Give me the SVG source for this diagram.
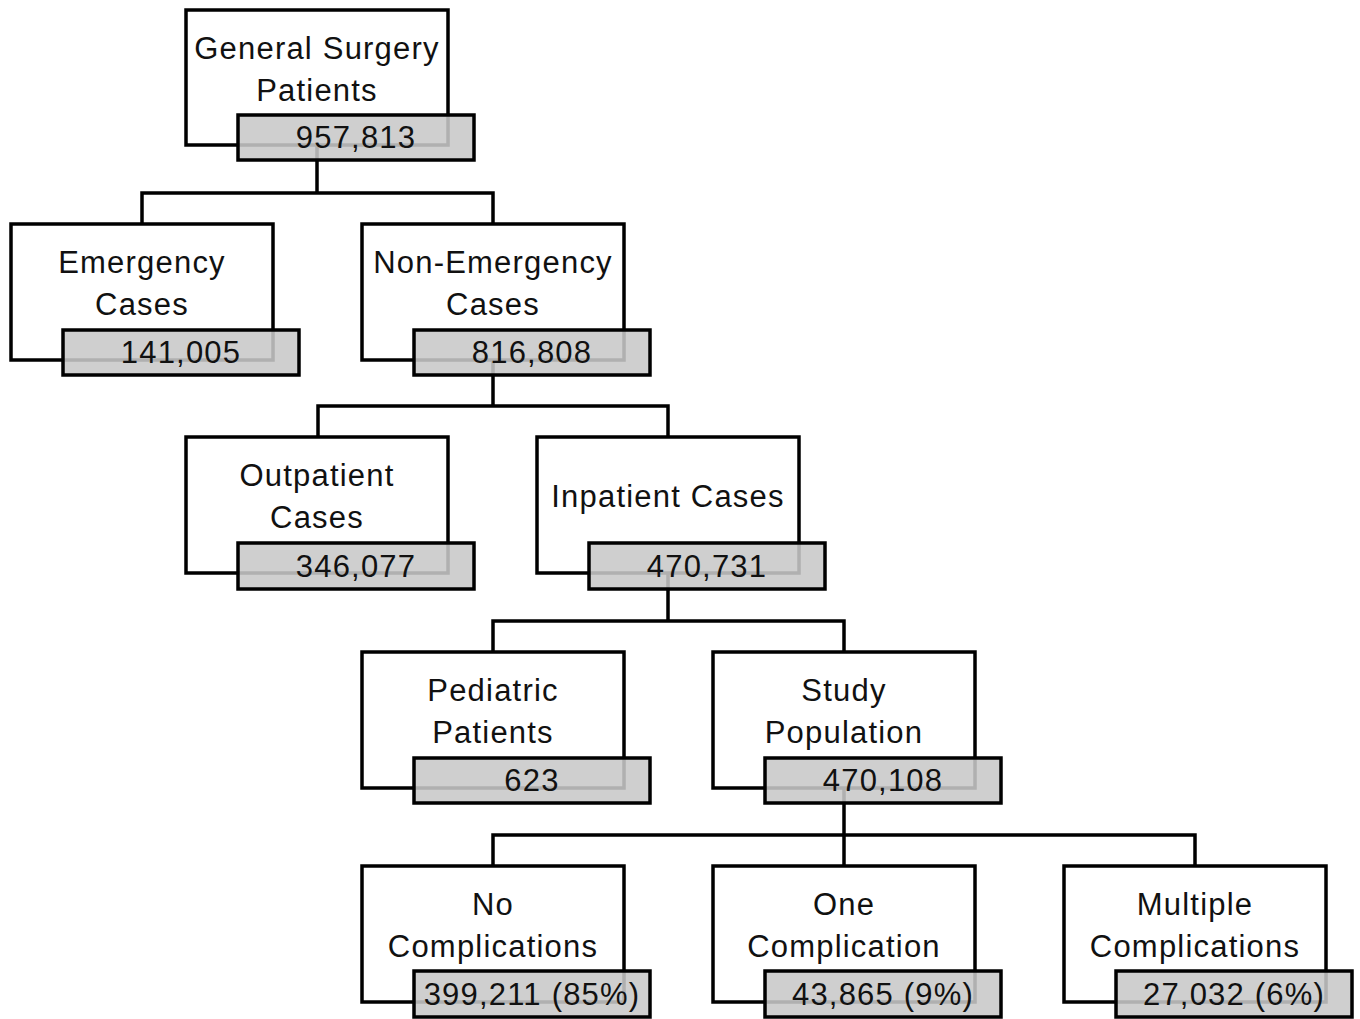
<svg xmlns="http://www.w3.org/2000/svg" width="1360" height="1019" viewBox="0 0 1360 1019">
<style>
.box{fill:#fff;stroke:#000;stroke-width:3.5}
.cnt{fill:#c8c8c8;fill-opacity:0.88;stroke:#000;stroke-width:3.5}
.t{font-family:"Liberation Sans",Arial,sans-serif;font-size:31px;letter-spacing:1.2px;fill:#111;text-anchor:middle}
.ln{fill:none;stroke:#000;stroke-width:3.5}
</style>
<rect width="1360" height="1019" fill="#fff"/>
<g id="connectors">
<path class="ln" d="M317,145 V193 M142,224 V193 H493 V224"/>
<path class="ln" d="M493,360 V406 M318,437 V406 H668 V437"/>
<path class="ln" d="M668,573 V621 M493,652 V621 H844 V652"/>
<path class="ln" d="M844,788 V835 M493,866 V835 H1195 V866 M844,835 V866"/>
</g>
<g id="general">
<rect class="box" x="186" y="10" width="262" height="135"/>
<text class="t" x="317" y="59">General Surgery</text>
<text class="t" x="317" y="101">Patients</text>
<rect class="cnt" x="238" y="115" width="236" height="45"/>
<text class="t" x="356" y="148">957,813</text>
</g>
<g id="emergency">
<rect class="box" x="11" y="224" width="262" height="136"/>
<text class="t" x="142" y="273">Emergency</text>
<text class="t" x="142" y="315">Cases</text>
<rect class="cnt" x="63" y="330" width="236" height="45"/>
<text class="t" x="181" y="363">141,005</text>
</g>
<g id="nonemergency">
<rect class="box" x="362" y="224" width="262" height="136"/>
<text class="t" x="493" y="273">Non-Emergency</text>
<text class="t" x="493" y="315">Cases</text>
<rect class="cnt" x="414" y="330" width="236" height="45"/>
<text class="t" x="532" y="363">816,808</text>
</g>
<g id="outpatient">
<rect class="box" x="186" y="437" width="262" height="136"/>
<text class="t" x="317" y="486">Outpatient</text>
<text class="t" x="317" y="528">Cases</text>
<rect class="cnt" x="238" y="543" width="236" height="46"/>
<text class="t" x="356" y="577">346,077</text>
</g>
<g id="inpatient">
<rect class="box" x="537" y="437" width="262" height="136"/>
<text class="t" x="668" y="507">Inpatient Cases</text>
<rect class="cnt" x="589" y="543" width="236" height="46"/>
<text class="t" x="707" y="577">470,731</text>
</g>
<g id="pediatric">
<rect class="box" x="362" y="652" width="262" height="136"/>
<text class="t" x="493" y="701">Pediatric</text>
<text class="t" x="493" y="743">Patients</text>
<rect class="cnt" x="414" y="758" width="236" height="45"/>
<text class="t" x="532" y="791">623</text>
</g>
<g id="study">
<rect class="box" x="713" y="652" width="262" height="136"/>
<text class="t" x="844" y="701">Study</text>
<text class="t" x="844" y="743">Population</text>
<rect class="cnt" x="765" y="758" width="236" height="45"/>
<text class="t" x="883" y="791">470,108</text>
</g>
<g id="nocomp">
<rect class="box" x="362" y="866" width="262" height="136"/>
<text class="t" x="493" y="915">No</text>
<text class="t" x="493" y="957">Complications</text>
<rect class="cnt" x="414" y="971" width="236" height="46"/>
<text class="t" x="532" y="1005">399,211 (85%)</text>
</g>
<g id="onecomp">
<rect class="box" x="713" y="866" width="262" height="136"/>
<text class="t" x="844" y="915">One</text>
<text class="t" x="844" y="957">Complication</text>
<rect class="cnt" x="765" y="971" width="236" height="46"/>
<text class="t" x="883" y="1005">43,865 (9%)</text>
</g>
<g id="multicomp">
<rect class="box" x="1064" y="866" width="262" height="136"/>
<text class="t" x="1195" y="915">Multiple</text>
<text class="t" x="1195" y="957">Complications</text>
<rect class="cnt" x="1116" y="971" width="236" height="46"/>
<text class="t" x="1234" y="1005">27,032 (6%)</text>
</g>
</svg>
